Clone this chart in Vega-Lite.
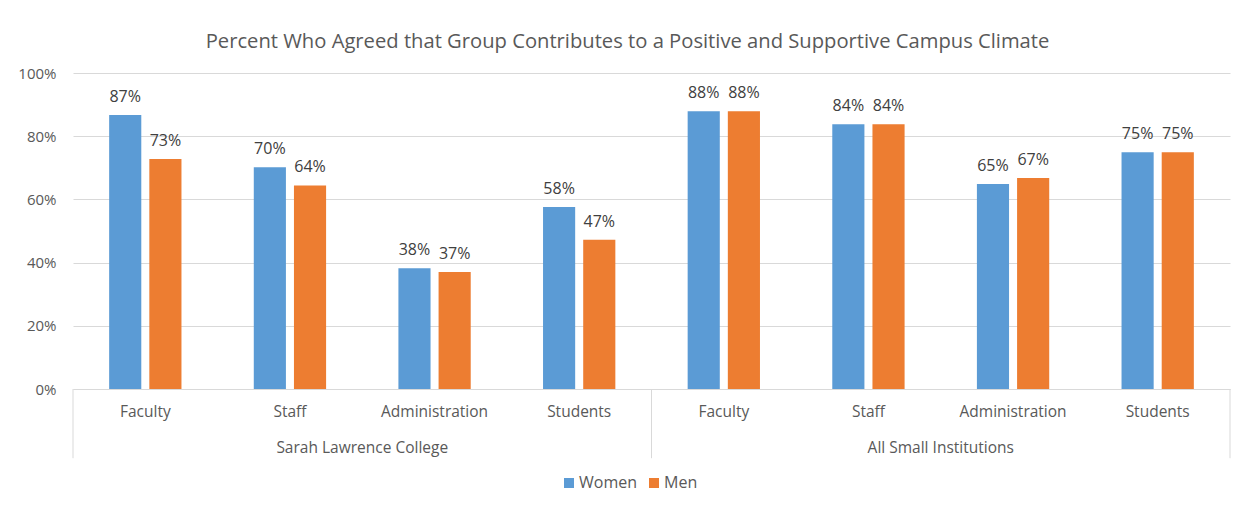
{
  "$schema": "https://vega.github.io/schema/vega-lite/v6.json",
  "autosize": "none",
  "width": 1157,
  "height": 316,
  "padding": {"left": 73, "top": 73, "right": 13, "bottom": 119},
  "background": "white",
  "config": {
    "font": "Open Sans",
    "view": {"stroke": null},
    "axis": {"labelFont": "Open Sans", "labelColor": "#595959", "labelFontSize": 15},
    "legend": {"labelFont": "Open Sans"}
  },
  "title": {
    "text": "Percent Who Agreed that Group Contributes to a Positive and Supportive Campus Climate",
    "font": "Open Sans",
    "fontSize": 20.2,
    "fontWeight": "normal",
    "color": "#595959",
    "anchor": "middle",
    "frame": "group",
    "dx": -24,
    "offset": 14
  },
  "datasets": {
    "bars": [
      {"group": "Sarah Lawrence College", "key": "Sarah Lawrence College|Faculty", "series": "Women", "value": 0.867},
      {"group": "Sarah Lawrence College", "key": "Sarah Lawrence College|Faculty", "series": "Men", "value": 0.728},
      {"group": "Sarah Lawrence College", "key": "Sarah Lawrence College|Staff", "series": "Women", "value": 0.702},
      {"group": "Sarah Lawrence College", "key": "Sarah Lawrence College|Staff", "series": "Men", "value": 0.644},
      {"group": "Sarah Lawrence College", "key": "Sarah Lawrence College|Administration", "series": "Women", "value": 0.382},
      {"group": "Sarah Lawrence College", "key": "Sarah Lawrence College|Administration", "series": "Men", "value": 0.37},
      {"group": "Sarah Lawrence College", "key": "Sarah Lawrence College|Students", "series": "Women", "value": 0.576},
      {"group": "Sarah Lawrence College", "key": "Sarah Lawrence College|Students", "series": "Men", "value": 0.472},
      {"group": "All Small Institutions", "key": "All Small Institutions|Faculty", "series": "Women", "value": 0.879},
      {"group": "All Small Institutions", "key": "All Small Institutions|Faculty", "series": "Men", "value": 0.879},
      {"group": "All Small Institutions", "key": "All Small Institutions|Staff", "series": "Women", "value": 0.838},
      {"group": "All Small Institutions", "key": "All Small Institutions|Staff", "series": "Men", "value": 0.838},
      {"group": "All Small Institutions", "key": "All Small Institutions|Administration", "series": "Women", "value": 0.649},
      {"group": "All Small Institutions", "key": "All Small Institutions|Administration", "series": "Men", "value": 0.668},
      {"group": "All Small Institutions", "key": "All Small Institutions|Students", "series": "Women", "value": 0.749},
      {"group": "All Small Institutions", "key": "All Small Institutions|Students", "series": "Men", "value": 0.749}
    ],
    "groups": [
      {"label": "Sarah Lawrence College", "key": "Sarah Lawrence College|Staff"},
      {"label": "All Small Institutions", "key": "All Small Institutions|Staff"}
    ],
    "seps_start": [
      {"key": "Sarah Lawrence College|Faculty"},
      {"key": "All Small Institutions|Faculty"}
    ],
    "seps_end": [
      {"key": "All Small Institutions|Students"}
    ]
  },
  "encoding": {
    "x": {
      "field": "key",
      "type": "nominal",
      "sort": [
        "Sarah Lawrence College|Faculty", "Sarah Lawrence College|Staff", "Sarah Lawrence College|Administration", "Sarah Lawrence College|Students",
        "All Small Institutions|Faculty", "All Small Institutions|Staff", "All Small Institutions|Administration", "All Small Institutions|Students"
      ],
      "scale": {"paddingInner": 0, "paddingOuter": 0},
      "axis": {
        "title": null,
        "labelAngle": 0,
        "labelExpr": "split(datum.value, '|')[1]",
        "ticks": false,
        "labelPadding": 15,
        "labelFontSize": 15.5,
        "labelColor": "#595959",
        "domainColor": "#D9D9D9",
        "domainWidth": 1
      }
    }
  },
  "layer": [
    {
      "data": {"name": "bars"},
      "mark": {"type": "bar"},
      "encoding": {
        "xOffset": {
          "field": "series",
          "type": "nominal",
          "sort": ["Women", "Men"],
          "scale": {"paddingInner": 0.2, "paddingOuter": 0.9}
        },
        "y": {
          "field": "value",
          "type": "quantitative",
          "scale": {"domain": [0, 1]},
          "axis": {
            "title": null,
            "values": [0, 0.2, 0.4, 0.6, 0.8, 1],
            "format": ".0%",
            "domain": false,
            "ticks": false,
            "labelPadding": 17,
            "labelFontSize": 15,
            "labelColor": "#595959",
            "gridColor": "#D9D9D9",
            "gridWidth": 1
          }
        },
        "color": {
          "field": "series",
          "type": "nominal",
          "sort": ["Women", "Men"],
          "scale": {"domain": ["Women", "Men"], "range": ["#5B9BD5", "#ED7D31"]},
          "legend": {
            "title": null,
            "orient": "none",
            "direction": "horizontal",
            "legendX": 488,
            "legendY": 402,
            "symbolType": "square",
            "symbolSize": 100,
            "symbolStrokeWidth": 0,
            "labelFontSize": 16,
            "labelColor": "#595959",
            "labelOffset": 2,
            "columnPadding": 8
          }
        }
      }
    },
    {
      "data": {"name": "bars"},
      "mark": {"type": "text", "baseline": "bottom", "dy": -10, "fontSize": 16, "color": "#404040"},
      "encoding": {
        "xOffset": {
          "field": "series",
          "type": "nominal",
          "sort": ["Women", "Men"],
          "scale": {"paddingInner": 0.2, "paddingOuter": 0.9}
        },
        "y": {"field": "value", "type": "quantitative"},
        "text": {"field": "value", "type": "quantitative", "format": ".0%"}
      }
    },
    {
      "data": {"name": "groups"},
      "mark": {"type": "text", "baseline": "middle", "fontSize": 15.5, "color": "#595959"},
      "encoding": {
        "x": {"field": "key", "type": "nominal", "bandPosition": 1},
        "y": {"datum": -0.186},
        "text": {"field": "label"}
      }
    },
    {
      "data": {"name": "seps_start"},
      "mark": {"type": "rule", "color": "#D9D9D9", "strokeWidth": 1},
      "encoding": {
        "x": {"field": "key", "type": "nominal", "bandPosition": 0},
        "y": {"datum": 0},
        "y2": {"datum": -0.219}
      }
    },
    {
      "data": {"name": "seps_end"},
      "mark": {"type": "rule", "color": "#D9D9D9", "strokeWidth": 1},
      "encoding": {
        "x": {"field": "key", "type": "nominal", "bandPosition": 1},
        "y": {"datum": 0},
        "y2": {"datum": -0.219}
      }
    }
  ]
}
